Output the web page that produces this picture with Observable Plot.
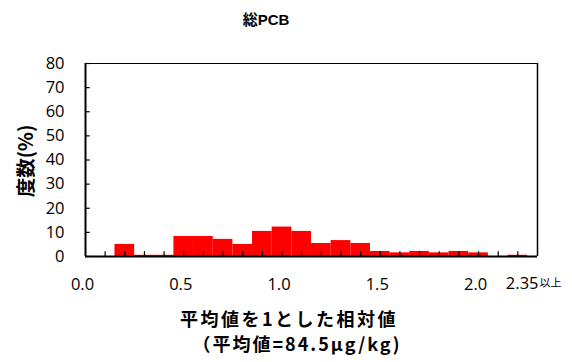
<!DOCTYPE html>
<html>
<head>
<meta charset="utf-8">
<script src="https://cdn.jsdelivr.net/npm/d3@7"></script>
<script src="https://cdn.jsdelivr.net/npm/@observablehq/plot@0.6"></script>
<style>
  html, body { margin: 0; padding: 0; background: #fff; }
  #wrap { position: relative; width: 572px; height: 362px; overflow: hidden; font-family: "Noto Sans CJK JP", "Liberation Sans", sans-serif; }
  #chart { position: absolute; left: 0; top: 0; }
  .lbl { position: absolute; white-space: nowrap; color: #000; font-weight: bold; }
  #title { left: 266px; top: 18px; transform: translate(-50%, -50%); font-size: 15px; font-family: "Liberation Sans", "Noto Sans CJK JP", sans-serif; }
  #ylab { left: 24px; top: 161px; transform: translate(-50%, -50%) rotate(-90deg); font-size: 19.5px; }
  #xlab1 { left: 289px; top: 318px; transform: translate(-50%, -50%); font-size: 18px; letter-spacing: 2.5px; }
  #xlab2 { left: 297px; top: 343px; transform: translate(-50%, -50%); font-size: 18px; letter-spacing: 2px; }
</style>
</head>
<body>
<div id="wrap">
  <div id="chart"></div>
  <div class="lbl" id="title">総PCB</div>
  <div class="lbl" id="ylab">度数(%)</div>
  <div class="lbl" id="xlab1">平均値を1とした相対値</div>
  <div class="lbl" id="xlab2">（平均値=84.5μg/kg)</div>
</div>
<script>
// Histogram bins (centre of each 0.1-wide class) and frequency (%)
const binCenters = [0.2, 0.3, 0.4, 0.5, 0.6, 0.7, 0.8, 0.9, 1.0, 1.1, 1.2, 1.3, 1.4, 1.5, 1.6, 1.7, 1.8, 1.9, 2.0, 2.2];
const frequency  = [5.0, 0.5, 0.5, 8.3, 8.3, 7.1, 5.0, 10.4, 12.2, 10.4, 5.4, 6.6, 5.4, 2.1, 1.5, 2.1, 1.5, 2.1, 1.5, 0.5];
const binWidth = 0.1;

const xLabelTicks = [0.0, 0.5, 1.0, 1.5, 2.0];
const xMinorTicks = [0.1, 0.2, 0.3, 0.4, 0.5, 0.6, 0.7, 0.8, 0.9, 1.0, 1.1, 1.2, 1.3, 1.4, 1.5, 1.6, 1.7, 1.8, 1.9, 2.0, 2.1, 2.2];
const yTicks = [0, 10, 20, 30, 40, 50, 60, 70, 80];
const lastLabelNum = "2.35";
const lastLabelSuffix = "以上";
const xMax = 2.3;
const yMax = 80;

const bins = binCenters.map((c, i) => ({x1: c - binWidth / 2, x2: c + binWidth / 2, y: frequency[i]}));

const tickFont = "'Open Sans', 'Liberation Sans', sans-serif";
const tickSize = 16.5;

const plot = Plot.plot({
  width: 572,
  height: 362,
  marginLeft: 85,
  marginRight: 35,
  marginTop: 63,
  marginBottom: 106,
  style: {fontFamily: tickFont, fontSize: tickSize + "px", color: "#000", background: "transparent"},
  x: {domain: [0, xMax]},
  y: {domain: [0, yMax]},
  marks: [
    Plot.rectY(bins, {x1: "x1", x2: "x2", y: "y", fill: "#ff0000"}),
    // frame top & right
    Plot.ruleY([yMax], {stroke: "#000", strokeWidth: 1}),
    Plot.ruleX([xMax], {stroke: "#000", strokeWidth: 1.5}),
    // inward ticks
    Plot.ruleX(xMinorTicks, {y1: 0, y2: 2, stroke: "#000", strokeWidth: 1.2}),
    Plot.ruleY(yTicks, {x1: 0, x2: 0.024, stroke: "#000", strokeWidth: 1.2}),
    // axis lines
    Plot.ruleY([0], {stroke: "#000", strokeWidth: 2}),
    Plot.ruleX([0], {stroke: "#000", strokeWidth: 2}),
    Plot.axisX(xLabelTicks, {label: null, tickSize: 0, tickPadding: 22, dx: -3, tickFormat: d3.format(".1f"), fontSize: tickSize}),
    Plot.axisY(yTicks, {label: null, tickSize: 0, tickPadding: 21, fontSize: tickSize}),
    Plot.text([lastLabelNum], {x: xMax, y: 0, text: d => d, textAnchor: "end", dy: 27, dx: 1, fontSize: tickSize, fontFamily: tickFont}),
    Plot.text([lastLabelSuffix], {x: xMax, y: 0, text: d => d, textAnchor: "start", dy: 27, dx: 2, fontSize: 11, fontFamily: "'Noto Sans CJK JP', sans-serif"})
  ]
});
document.getElementById("chart").appendChild(plot);
</script>
</body>
</html>
